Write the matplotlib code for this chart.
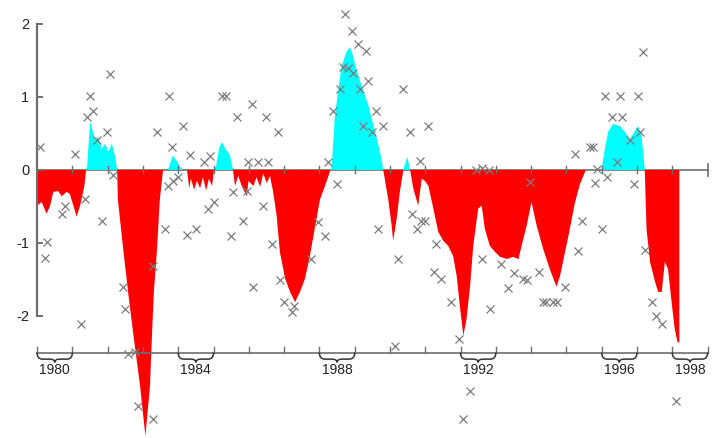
import numpy as np
import matplotlib
matplotlib.use("Agg")
import matplotlib.pyplot as plt
from matplotlib.path import Path
from matplotlib.patches import PathPatch

# smoothed index (filled area)
curve_years = [
    1980.00, 1980.13, 1980.27, 1980.37, 1980.46, 1980.60, 1980.70, 1980.84, 1980.93, 1981.03, 1981.12, 1981.22, 1981.34, 1981.39,
    1981.42, 1981.50, 1981.53, 1981.64, 1981.74, 1981.83, 1981.93, 1982.02, 1982.12, 1982.21, 1982.27,
    1982.29, 1982.44, 1982.58, 1982.72, 1982.92, 1983.07, 1983.20, 1983.26, 1983.31, 1983.40, 1983.48, 1983.57,
    1983.71, 1983.85, 1983.99, 1984.11,
    1984.25, 1984.31, 1984.36, 1984.45, 1984.53, 1984.62, 1984.70, 1984.79, 1984.87, 1984.96, 1985.01,
    1985.07, 1985.16, 1985.24, 1985.35, 1985.47, 1985.55,
    1985.61, 1985.70, 1985.80, 1985.94, 1985.99, 1986.13, 1986.22, 1986.32, 1986.41, 1986.51, 1986.60, 1986.69,
    1986.79, 1986.88, 1987.03, 1987.17, 1987.31, 1987.45, 1987.59, 1987.73, 1987.88, 1988.02, 1988.16, 1988.30,
    1988.35, 1988.44, 1988.54, 1988.63, 1988.77, 1988.87, 1988.96, 1989.06, 1989.20, 1989.39, 1989.58, 1989.72, 1989.81,
    1989.95, 1990.05, 1990.09, 1990.19, 1990.28, 1990.38, 1990.49, 1990.57,
    1990.66, 1990.80, 1990.90, 1990.99, 1991.09, 1991.23, 1991.37, 1991.51, 1991.65, 1991.79, 1991.89, 1991.98,
    1992.08, 1992.17, 1992.27, 1992.36, 1992.50, 1992.60, 1992.69, 1992.83, 1992.97, 1993.12, 1993.31, 1993.49,
    1993.64, 1993.73, 1993.87, 1994.01,
    1994.16, 1994.34, 1994.53, 1994.72, 1994.82, 1994.95, 1995.10, 1995.24, 1995.38, 1995.55,
    1995.99, 1996.09, 1996.18, 1996.32, 1996.52, 1996.66, 1996.80, 1996.94, 1997.03, 1997.13, 1997.22,
    1997.27, 1997.37, 1997.51, 1997.60, 1997.70, 1997.79, 1997.88, 1997.98, 1998.07, 1998.15, 1998.20,
]
curve_vals = [
    -0.49, -0.44, -0.60, -0.49, -0.30, -0.29, -0.36, -0.30, -0.33, -0.49, -0.64, -0.49, -0.22, 0.0,
    0.05, 0.65, 0.62, 0.42, 0.45, 0.29, 0.36, 0.25, 0.36, 0.19, 0.0,
    -0.40, -1.08, -1.67, -2.22, -2.96, -3.64, -2.96, -2.22, -1.67, -1.08, -0.40, 0.0,
    0.0, 0.20, 0.10, 0.0,
    0.0, -0.25, -0.12, -0.27, -0.15, -0.25, -0.10, -0.28, -0.12, -0.22, 0.0,
    0.05, 0.30, 0.38, 0.28, 0.20, 0.0,
    -0.22, -0.08, -0.22, -0.36, -0.15, -0.22, -0.10, -0.23, -0.05, -0.18, -0.08, -0.30,
    -0.63, -1.12, -1.49, -1.67, -1.81, -1.67, -1.49, -1.18, -0.77, -0.40, -0.22, -0.02,
    0.05, 0.74, 1.11, 1.42, 1.62, 1.68, 1.55, 1.36, 1.15, 0.88, 0.52, 0.25, 0.0,
    -0.40, -0.77, -0.97, -0.67, -0.30, 0.0, 0.18, 0.0,
    -0.25, -0.49, -0.12, -0.15, -0.22, -0.53, -0.85, -0.97, -1.04, -1.18, -1.45, -1.86,
    -2.27, -2.04, -1.59, -1.04, -0.53, -0.49, -0.81, -1.04, -1.12, -1.19, -1.22, -1.19,
    -1.22, -1.04, -0.77, -0.44,
    -0.77, -1.08, -1.36, -1.60, -1.45, -1.15, -0.80, -0.45, -0.20, 0.0,
    0.0, 0.29, 0.52, 0.63, 0.60, 0.52, 0.42, 0.53, 0.60, 0.47, 0.0,
    -0.81, -1.26, -1.53, -1.67, -1.67, -1.26, -1.36, -1.81, -2.18, -2.36, -2.36,
]

# raw monthly values (x markers)
marker_years = [
    1980.08, 1981.08, 1981.50, 1981.59, 1981.42, 1982.07, 1981.98, 1981.70, 1982.15, 1980.79,
    1980.71, 1981.36, 1981.84, 1980.28, 1980.23, 1981.25, 1982.44, 1982.49, 1982.58, 1982.86,
    1983.29, 1983.29, 1983.40, 1983.74, 1984.14, 1983.82, 1984.33, 1983.85, 1983.71, 1983.99,
    1983.63, 1984.25, 1984.50, 1984.84, 1985.01, 1984.90, 1984.73, 1985.24, 1985.35, 1985.67,
    1986.09, 1986.49, 1986.83, 1985.55, 1985.50, 1985.84, 1985.98, 1986.26, 1986.54, 1985.95,
    1986.40, 1986.66, 1986.12, 1986.88, 1987.00, 1987.22, 1987.28, 1988.24, 1988.50, 1987.96,
    1988.16, 1987.76, 1988.73, 1988.92, 1989.09, 1989.32, 1988.67, 1988.81, 1988.95, 1988.58,
    1989.15, 1989.38, 1988.39, 1989.60, 1989.24, 1989.49, 1989.80, 1990.37, 1990.57, 1991.08,
    1990.85, 1989.66, 1990.23, 1990.14, 1990.62, 1990.88, 1990.76, 1990.99, 1991.30, 1991.25,
    1991.44, 1991.73, 1991.95, 1992.83, 1992.27, 1992.07, 1992.45, 1992.62, 1992.80, 1992.61,
    1993.14, 1993.34, 1993.51, 1993.77, 1993.88, 1994.22, 1994.33, 1994.42, 1994.62, 1994.73,
    1994.96, 1993.97, 1995.44, 1996.01, 1995.33, 1997.17, 1996.09, 1996.52, 1997.03, 1996.29,
    1996.57, 1997.08, 1996.80, 1995.67, 1995.75, 1995.24, 1996.43, 1995.86, 1996.15, 1995.81,
    1996.91, 1997.22, 1997.42, 1997.54, 1997.71, 1998.10, 1982.78,
]
marker_vals = [
    0.32, 0.22, 1.01, 0.81, 0.73, 1.32, 0.52, 0.41, -0.07, -0.49,
    -0.60, -0.40, -0.70, -0.99, -1.21, -2.11, -1.60, -1.90, -2.52, -3.23,
    -3.41, -1.32, 0.52, 1.01, 0.60, 0.32, 0.21, -0.15, -0.22, -0.10,
    -0.81, -0.89, -0.81, -0.53, -0.44, 0.19, 0.11, 1.01, 1.01, 0.73,
    0.90, 0.73, 0.52, -0.30, -0.90, -0.70, 0.11, 0.11, 0.11, -0.29,
    -0.49, -1.01, -1.60, -1.51, -1.81, -1.95, -1.86, 0.11, -0.19, -0.71,
    -0.90, -1.22, 2.14, 1.90, 1.73, 1.63, 1.41, 1.40, 1.33, 1.11,
    1.11, 1.22, 0.81, 0.81, 0.60, 0.52, 0.60, 1.11, 0.52, 0.60,
    0.12, -0.81, -1.22, -2.41, -0.60, -0.70, -0.81, -0.70, -1.01, -1.40,
    -1.49, -1.81, -2.32, -1.90, -3.03, -3.41, 0.0, 0.02, 0.0, -1.22,
    -1.29, -1.62, -1.41, -1.49, -1.51, -1.40, -1.81, -1.81, -1.81, -1.81,
    -1.60, -0.16, -0.70, -0.81, -1.11, 1.62, 1.01, 1.01, 1.01, 0.73,
    0.73, 0.52, 0.41, 0.32, 0.32, 0.22, 0.11, 0.01, -0.10, -0.18,
    -0.19, -1.10, -1.81, -2.00, -2.11, -3.17, -2.49,
]

y_ticks = [-2, -1, 0, 1, 2]
y_tick_labels = ["-2", "-1", "0", "1", "2"]
label_years = [1980, 1984, 1988, 1992, 1996, 1998]

RED = "#ff0000"
CYAN = "#00ffff"
AXIS = "#6e6e6e"
MARK = "#7c7c7c"
FIRST_YEAR, LAST_YEAR = 1980, 1999
BASE_Y = -2.5

plt.rcParams["font.family"] = ["Liberation Sans", "DejaVu Sans"]

fig = plt.figure(figsize=(7.15, 4.39), dpi=100)
ax = fig.add_axes([0, 0, 1, 1])
ax.set_xlim(1978.95, 1999.21)
ax.set_ylim(-3.67, 2.34)
ax.axis("off")

yrs = np.array(curve_years)
vals = np.array(curve_vals)
ax.fill_between(yrs, vals, 0, where=vals >= 0, interpolate=True, color=CYAN, lw=0, zorder=2)
ax.fill_between(yrs, vals, 0, where=vals <= 0, interpolate=True, color=RED, lw=0, zorder=2)

ax.plot(marker_years, marker_vals, "x", color=MARK, ms=6, mew=0.9, zorder=4)

# zero line with year ticks
ax.plot([FIRST_YEAR, LAST_YEAR], [0, 0], color=AXIS, lw=1.2, zorder=1)
for yr in range(FIRST_YEAR + 1, LAST_YEAR):
    ax.plot([yr, yr], [-0.04, 0.05], color=AXIS, lw=1.0, zorder=3)
ax.plot([LAST_YEAR, LAST_YEAR], [-0.08, 0.08], color=AXIS, lw=1.2, zorder=3)

# left axis
ax.plot([FIRST_YEAR, FIRST_YEAR], [y_ticks[0], y_ticks[-1]], color=AXIS, lw=1.6, zorder=3)
for v, lab in zip(y_ticks, y_tick_labels):
    ax.plot([FIRST_YEAR, FIRST_YEAR + 0.15], [v, v], color=AXIS, lw=1.4, zorder=3)
    ax.text(FIRST_YEAR - 0.22, v, lab, ha="right", va="center", fontsize=10.5, color="#222222")

# bottom time axis with year braces
ax.plot([FIRST_YEAR, LAST_YEAR], [BASE_Y, BASE_Y], color=AXIS, lw=1.2, zorder=3)
for yr in range(FIRST_YEAR, LAST_YEAR + 1):
    ax.plot([yr, yr], [BASE_Y, BASE_Y + 0.07], color=AXIS, lw=1.0, zorder=3)

h = 0.09
for yr in label_years:
    x0, x1, xm = yr, yr + 1, yr + 0.5
    verts = [
        (x0, BASE_Y), (x0, BASE_Y - h), (x0 + 0.15, BASE_Y - h),
        (xm - 0.15, BASE_Y - h), (xm, BASE_Y - h), (xm, BASE_Y - 1.5 * h),
        (x1, BASE_Y), (x1, BASE_Y - h), (x1 - 0.15, BASE_Y - h),
        (xm + 0.15, BASE_Y - h), (xm, BASE_Y - h), (xm, BASE_Y - 1.5 * h),
    ]
    codes = [Path.MOVETO, Path.CURVE3, Path.CURVE3, Path.LINETO, Path.CURVE3, Path.CURVE3] * 2
    ax.add_patch(PathPatch(Path(verts, codes), fill=False, ec="#333333", lw=1.1, zorder=3))
    ax.text(xm, -2.72, str(yr), ha="center", va="center", fontsize=10, color="#222222")

fig.savefig("out.png", dpi=100)
